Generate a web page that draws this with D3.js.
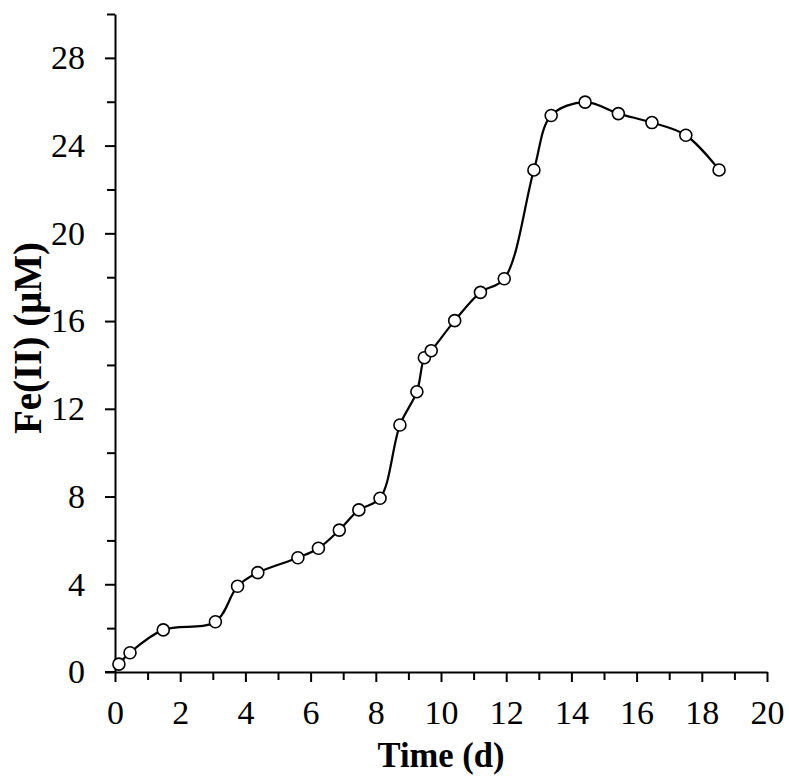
<!DOCTYPE html>
<html>
<head>
<meta charset="utf-8">
<script src="https://cdn.jsdelivr.net/npm/d3@7"></script>
<style>
  body { margin: 0; background: #fff; }
  text { font-family: "Liberation Serif", "Times New Roman", serif; }
</style>
</head>
<body>
<div id="vis"></div>
<script>
// data
var days = [0.12, 0.46, 1.48, 3.08, 3.76, 4.38, 5.61, 6.24, 6.88, 7.48, 8.13, 8.74, 9.26,
            9.49, 9.70, 10.42, 11.21, 11.94, 12.85, 13.38, 14.42, 15.44, 16.47, 17.51, 18.53];
var fe2 = [0.36, 0.88, 1.92, 2.29, 3.91, 4.53, 5.21, 5.64, 6.47, 7.39, 7.92, 11.26, 12.78,
           14.33, 14.65, 16.02, 17.31, 17.93, 22.89, 25.37, 25.98, 25.46, 25.05, 24.47, 22.89];
var xTicks = [0, 2, 4, 6, 8, 10, 12, 14, 16, 18, 20];
var yTicks = [0, 4, 8, 12, 16, 20, 24, 28];

var width = 789, height = 778;
var plotL = 115, plotR = 767, plotT = 14, plotB = 672;

var svg = d3.select("#vis").append("svg")
    .attr("width", width).attr("height", height);

var x = d3.scaleLinear().domain([0, 20]).range([plotL, plotR]);
var y = d3.scaleLinear().domain([0, 30]).range([plotB, plotT]);

// minor ticks
var xMinor = d3.range(0, 21, 1).filter(function(d){ return d % 2 != 0; });
var yMinor = d3.range(0, 31, 2).filter(function(d){ return d % 4 != 0; });

var xAxis = svg.append("g").attr("transform", "translate(0," + plotB + ")");
xAxis.call(d3.axisBottom(x).tickValues(xTicks).tickSize(10).tickSizeOuter(0).tickPadding(18));
xAxis.append("g").call(d3.axisBottom(x).tickValues(xMinor).tickSize(8).tickFormat(""))
    .select(".domain").remove();

var yAxis = svg.append("g").attr("transform", "translate(" + plotL + ",0)");
yAxis.call(d3.axisLeft(y).tickValues(yTicks).tickSize(10).tickSizeOuter(0).tickPadding(20));
yAxis.append("g").call(d3.axisLeft(y).tickValues(yMinor).tickSize(8).tickFormat(""))
    .select(".domain").remove();

svg.selectAll(".domain, .tick line").attr("stroke", "#000").attr("stroke-width", 2);
svg.selectAll(".tick text")
    .style("font-family", "'Liberation Serif', 'Times New Roman', serif")
    .style("font-size", "34px").attr("fill", "#000");

// x axis line runs out past the y axis like the original
svg.append("line").attr("x1", plotL - 10).attr("x2", plotL)
    .attr("y1", plotB).attr("y2", plotB)
    .attr("stroke", "#000").attr("stroke-width", 2);

var pts = days.map(function(d, i){ return [d, fe2[i]]; });

var line = d3.line()
    .x(function(d){ return x(d[0]); })
    .y(function(d){ return y(d[1]); })
    .curve(d3.curveCatmullRom.alpha(0.5));

svg.append("path").datum(pts)
    .attr("d", line)
    .attr("fill", "none")
    .attr("stroke", "#000")
    .attr("stroke-width", 2.2);

svg.append("g").selectAll("circle")
    .data(pts)
    .enter()
    .append("circle")
    .attr("cx", function(d){ return x(d[0]); })
    .attr("cy", function(d){ return y(d[1]); })
    .attr("r", 6)
    .attr("fill", "#fff")
    .attr("stroke", "#000")
    .attr("stroke-width", 1.6);

svg.append("text")
    .attr("x", (plotL + plotR) / 2).attr("y", 767)
    .attr("text-anchor", "middle")
    .attr("textLength", 127).attr("lengthAdjust", "spacingAndGlyphs")
    .style("font-size", "36px").style("font-weight", "bold")
    .text("Time (d)");

svg.append("text")
    .attr("transform", "translate(41,338) rotate(-90)")
    .attr("text-anchor", "middle")
    .style("font-size", "39px").style("font-weight", "bold")
    .text("Fe(II) (μM)");
</script>
</body>
</html>
